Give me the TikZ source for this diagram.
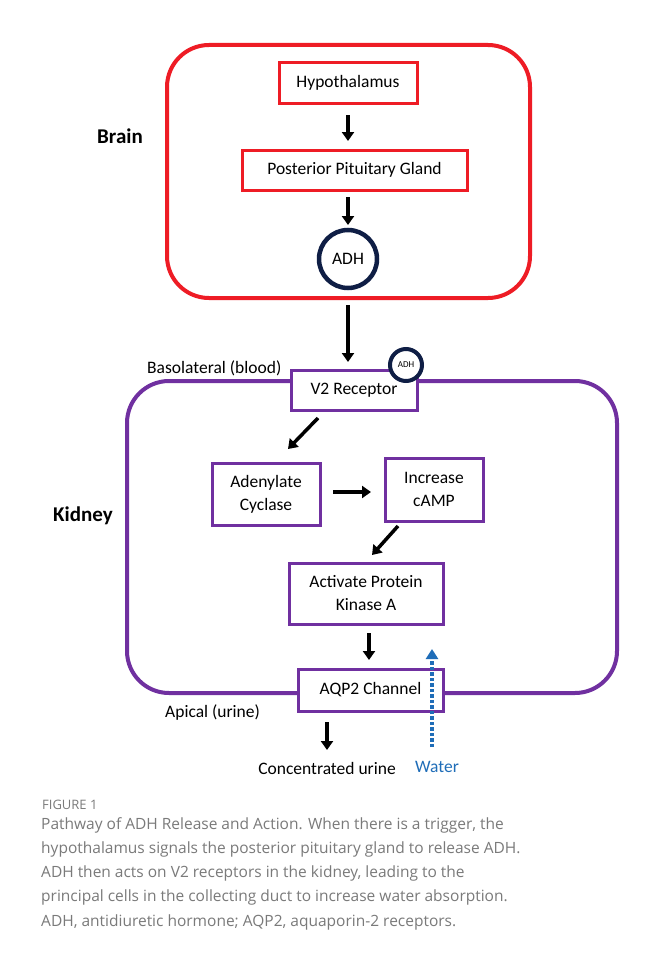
\documentclass[tikz,border=0pt]{standalone}
\usepackage{fontspec}
\setmainfont{Carlito}
\newfontfamily\capfont{Open Sans}
\usetikzlibrary{arrows.meta}
\definecolor{bred}{HTML}{EE1C25}
\definecolor{kpurple}{HTML}{7030A0}
\definecolor{navy}{HTML}{0F1E45}
\definecolor{wblue}{HTML}{1F6DB8}
\definecolor{capgray}{HTML}{7A7A7A}
\tikzset{
  redbox/.style={draw=bred, line width=3pt, fill=white, minimum height=40pt, font=\fontsize{17.5}{21}\selectfont, inner sep=0pt},
  purbox/.style={draw=kpurple, line width=3pt, fill=white, font=\fontsize{17.5}{23}\selectfont, align=center, inner sep=0pt},
  flow/.style={line width=3.5pt, -{Triangle[width=12pt,length=9pt]}},
  lbl/.style={font=\fontsize{17.5}{21}\selectfont, inner sep=0pt},
  big/.style={font=\bfseries\fontsize{21}{25}\selectfont, inner sep=0pt},
}
\begin{document}
\begin{tikzpicture}[x=1pt,y=-1pt]
\useasboundingbox[fill=white] (0,0) rectangle (654,958);
% Brain frame
\draw[bred, line width=4pt, rounded corners=42pt] (167,45) rectangle (530,298);
\node[big] (brain) at (120,136) {Brain};
\node[redbox, minimum width=138pt] (hyp) at (348,83) {Hypothalamus};
\node[redbox, minimum width=225pt] (ppg) at (354.5,170) {Posterior Pituitary Gland};
\node[circle, draw=navy, line width=4.5pt, minimum size=58pt, inner sep=0pt, font=\fontsize{17.5}{21}\selectfont] (adh) at (348,259) {ADH};
\coordinate (h1) at (348,115); \coordinate (h2) at (348,141);
\draw[flow] (h1) -- (h2);
\coordinate (p1) at (348,197); \coordinate (p2) at (348,225);
\draw[flow] (p1) -- (p2);
% Kidney frame
\draw[kpurple, line width=4pt, rounded corners=42pt] (127,381) rectangle (617,693);
\node[big] (kidney) at (83,516) {Kidney};
\node[purbox, minimum width=126pt, minimum height=40pt] (v2) at (354,390) {V2 Receptor};
\node[circle, draw=navy, line width=4pt, minimum size=32pt, inner sep=0pt, fill=white, font=\fontsize{9}{10}\selectfont] (adh2) at (406,365) {ADH};
\node[lbl, anchor=west] (baso) at (147,368) {Basolateral (blood)};
\coordinate (a1) at (348,305); \coordinate (a2) at (348,362);
\draw[flow] (a1) -- (a2);
\node[purbox, minimum width=108pt, minimum height=62pt] (ac) at (266,494) {Adenylate\\Cyclase};
\node[purbox, minimum width=98pt, minimum height=63pt] (camp) at (434,489.5) {Increase\\cAMP};
\node[purbox, minimum width=154pt, minimum height=61pt] (pka) at (366,593.5) {Activate Protein\\Kinase A};
\node[purbox, minimum width=145pt, minimum height=42pt] (aqp) at (370.5,690) {AQP2 Channel};
\coordinate (d1) at (318,418); \coordinate (d2) at (288,449);
\draw[flow] (d1) -- (d2);
\coordinate (r1) at (333,492); \coordinate (r2) at (371,492);
\draw[flow] (r1) -- (r2);
\coordinate (e1) at (398,526); \coordinate (e2) at (372,555);
\draw[flow] (e1) -- (e2);
\coordinate (k1) at (369,633); \coordinate (k2) at (369,660);
\draw[flow] (k1) -- (k2);
\node[lbl, anchor=west] (apical) at (165,713) {Apical (urine)};
\coordinate (u1) at (327,722); \coordinate (u2) at (327,750);
\draw[flow] (u1) -- (u2);
\node[lbl] (conc) at (327,768) {Concentrated urine};
\node[lbl, text=wblue] (water) at (437,767) {Water};
\coordinate (w1) at (432,747); \coordinate (w2) at (432,649);
\draw[wblue, line width=3.5pt, dotted, -{Triangle[width=12pt,length=10pt]}] (w1) -- (w2);
% caption
\node[anchor=west, inner sep=0pt, text=capgray, font=\capfont\fontsize{13}{15}\selectfont] (fig) at (42,805) {FIGURE 1};
\node[anchor=north west, inner sep=0pt, text=capgray, align=left, font=\capfont\fontsize{15.5}{24.3}\selectfont] (cap) at (41,817) {Pathway of ADH Release and Action. When there is a trigger, the\\hypothalamus signals the posterior pituitary gland to release ADH.\\ADH then acts on V2 receptors in the kidney, leading to the\\principal cells in the collecting duct to increase water absorption.\\ADH, antidiuretic hormone; AQP2, aquaporin-2 receptors.};
\end{tikzpicture}
\end{document}
